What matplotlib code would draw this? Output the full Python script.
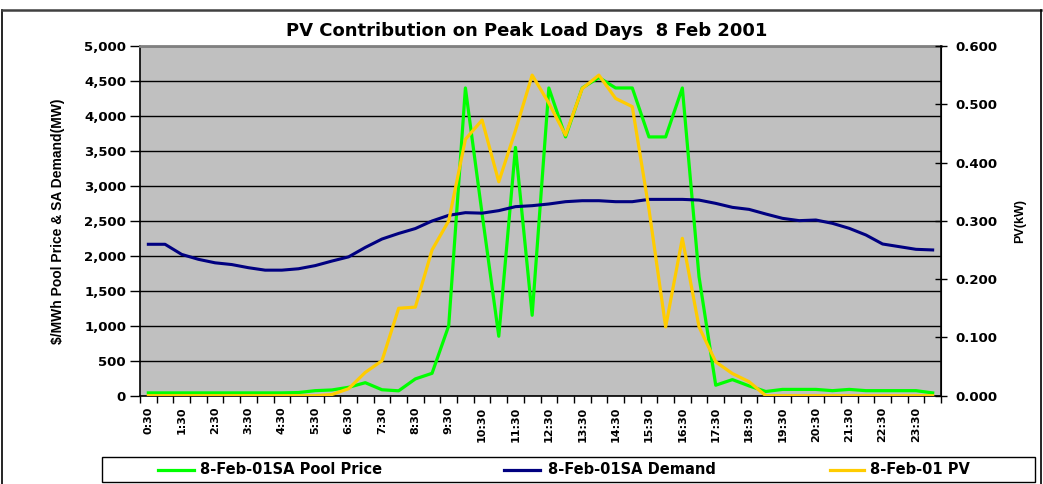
import matplotlib
matplotlib.use("Agg")
import matplotlib.pyplot as plt
from matplotlib.ticker import FuncFormatter, FixedLocator
from matplotlib.lines import Line2D
from matplotlib.patches import Rectangle

times = ["0:30", "1:00", "1:30", "2:00", "2:30", "3:00", "3:30", "4:00", "4:30", "5:00",
         "5:30", "6:00", "6:30", "7:00", "7:30", "8:00", "8:30", "9:00", "9:30", "10:00",
         "10:30", "11:00", "11:30", "12:00", "12:30", "13:00", "13:30", "14:00", "14:30", "15:00",
         "15:30", "16:00", "16:30", "17:00", "17:30", "18:00", "18:30", "19:00", "19:30", "20:00",
         "20:30", "21:00", "21:30", "22:00", "22:30", "23:00", "23:30", "24:00"]

pool_price = [40, 40, 40, 40, 40, 40, 40, 40, 40, 45,
              72, 82, 120, 186, 85, 70, 240, 320, 1000, 4400,
              2600, 850, 3550, 1150, 4400, 3700, 4400, 4550, 4400, 4400,
              3700, 3700, 4400, 1700, 150, 230, 140, 60, 90, 90,
              90, 72, 90, 72, 72, 72, 72, 40]

demand = [2165, 2165, 2020, 1950, 1900, 1875, 1830, 1795, 1795, 1815,
          1860, 1925, 1985, 2120, 2240, 2320, 2390, 2498, 2579, 2617,
          2610, 2646, 2703, 2717, 2741, 2774, 2788, 2788, 2774, 2774,
          2807, 2807, 2807, 2797, 2750, 2693, 2664, 2598, 2536, 2503,
          2512, 2464, 2393, 2298, 2169, 2131, 2093, 2084]

pv = [0, 0, 0, 0, 0, 0, 0, 0, 0, 0,
      0, 0.002, 0.012, 0.04, 0.06, 0.15, 0.152, 0.25, 0.30, 0.44,
      0.473, 0.367, 0.455, 0.55, 0.502, 0.447, 0.527, 0.55, 0.51, 0.496,
      0.32, 0.118, 0.27, 0.118, 0.058, 0.038, 0.024, 0, 0, 0,
      0, 0, 0, 0, 0, 0, 0, 0]

title = "PV Contribution on Peak Load Days  8 Feb 2001"
left_label = "$/MWh Pool Price & SA Demand(MW)"
right_label = "PV(kW)"
series_names = ["8-Feb-01SA Pool Price", "8-Feb-01SA Demand", "8-Feb-01 PV"]

W, H = 1043, 484
fig = plt.figure(figsize=(W / 100, H / 100), dpi=100)
fig.patch.set_facecolor("white")

FONT = "DejaVu Sans"

def fx(px):
    return px / W

def fy(py):
    return 1 - py / H

L, R, T, B = 140, 941, 46, 395.7
ax = fig.add_axes([fx(L), fy(B), fx(R) - fx(L), fy(T) - fy(B)])
ax.set_facecolor("#C0C0C0")

x = list(range(len(times)))
ax.plot(x, pool_price, color="#00FF00", lw=2.3, zorder=3)
ax.plot(x, demand, color="#000080", lw=2.2, zorder=4)
ax.set_xlim(-0.5, len(times) - 0.5)
ax.set_ylim(0, 5000)
ax.set_yticks(range(0, 5001, 500))
ax.yaxis.set_major_formatter(FuncFormatter(lambda v, p: f"{int(v):,}"))
ax.grid(axis="y", color="black", lw=1.0, zorder=1)
ax.set_axisbelow(True)

# x ticks: marks on category boundaries, labels on every other category
ax.xaxis.set_major_locator(FixedLocator([i - 0.5 for i in range(len(times) + 1)]))
ax.xaxis.set_major_formatter(FuncFormatter(lambda v, p: ""))
ax.xaxis.set_minor_locator(FixedLocator(x[::2]))
ax.set_xticklabels(times[::2], minor=True)
ax.tick_params(axis="x", which="major", direction="out", length=5, width=1, color="black")
ax.tick_params(axis="x", which="minor", length=0, pad=8)
for lab in ax.get_xticklabels(minor=True):
    lab.set_rotation(90)
    lab.set_fontsize(8)
    lab.set_fontweight("bold")
    lab.set_family(FONT)
    lab.set_va("top")
    lab.set_ha("center")

ax.tick_params(axis="y", direction="out", length=7, width=1, pad=3)
for lab in ax.get_yticklabels():
    lab.set_fontsize(9.5)
    lab.set_fontweight("bold")
    lab.set_family(FONT)

for s in ["left", "bottom"]:
    ax.spines[s].set_color("black")
    ax.spines[s].set_linewidth(1.2)
ax.spines["top"].set_color("#808080")
ax.spines["top"].set_linewidth(2)
ax.spines["right"].set_color("black")

ax.set_ylabel(left_label, fontsize=10, fontweight="bold", family="Liberation Sans")
ax.yaxis.set_label_coords((65 - L) / (R - L), 0.5)

ax2 = ax.twinx()
ax2.plot(x, pv, color="#FFCC00", lw=2.3, zorder=5)
ax2.set_ylim(0, 0.6)
ax2.set_yticks([i / 10 for i in range(7)])
ax2.yaxis.set_major_formatter(FuncFormatter(lambda v, p: f"{v:.3f}"))
ax2.tick_params(axis="y", direction="inout", length=9, width=1, pad=6)
for lab in ax2.get_yticklabels():
    lab.set_fontsize(9.5)
    lab.set_fontweight("bold")
    lab.set_family(FONT)
ax2.spines["right"].set_color("black")
ax2.spines["right"].set_linewidth(1.2)
ax2.spines["top"].set_visible(False)
ax2.spines["left"].set_visible(False)
ax2.spines["bottom"].set_visible(False)
ax2.set_ylabel(right_label, fontsize=9, fontweight="bold", family="Liberation Sans", labelpad=12)

fig.text(fx(527), fy(31), title, ha="center", va="center", fontsize=13,
         fontweight="bold", family=FONT)

# outer frame
fig.add_artist(Line2D([fx(2), fx(2)], [fy(10), fy(484)], color="black", lw=1.2))
fig.add_artist(Line2D([fx(2), fx(1041)], [fy(10), fy(10)], color="#404040", lw=1.8))
fig.add_artist(Line2D([fx(1041), fx(1041)], [fy(10), fy(484)], color="black", lw=1.2))

# legend box
fig.add_artist(Rectangle((fx(102), fy(482)), fx(1035) - fx(102), fy(457) - fy(482),
                         fill=False, edgecolor="black", lw=1.0))
colors = ["#00FF00", "#000080", "#FFCC00"]
line_x = [(158, 194), (504, 540), (830, 864)]
text_x = [200, 548, 870]
for c, (a, b), tx, name in zip(colors, line_x, text_x, series_names):
    fig.add_artist(Line2D([fx(a), fx(b)], [fy(469.5), fy(469.5)], color=c, lw=2.3))
    fig.text(fx(tx), fy(469.5), name, ha="left", va="center", fontsize=10.5,
             fontweight="bold", family=FONT)

fig.savefig("out.png", dpi=100)
